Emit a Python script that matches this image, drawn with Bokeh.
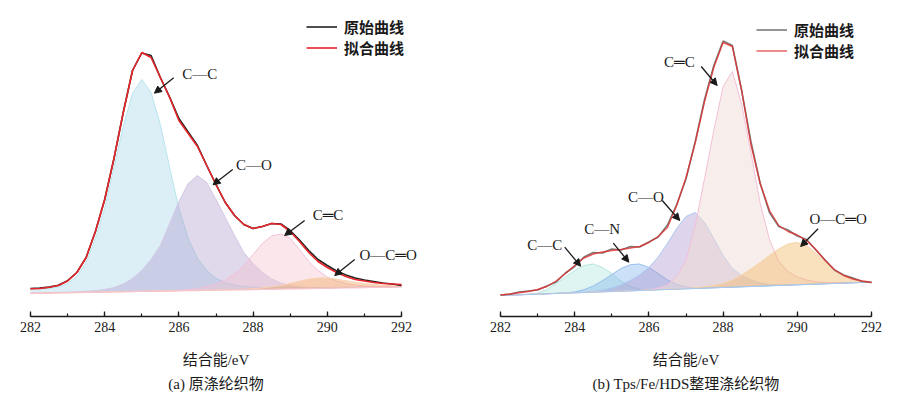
from bokeh.plotting import figure
from bokeh.layouts import row
from bokeh.models import (Range1d, SingleIntervalTicker, Title, Label, Arrow,
                          NormalHead, Legend, LegendItem)
from bokeh.embed import file_html
from bokeh.resources import INLINE

# ---------------- data (binding energy in eV, intensity in a.u.) ----------------
energy = [282.00, 282.25, 282.50, 282.75, 283.00, 283.25, 283.50, 283.75, 284.00, 284.25,
          284.50, 284.75, 285.00, 285.25, 285.50, 285.75, 286.00, 286.25, 286.50, 286.75,
          287.00, 287.25, 287.50, 287.75, 288.00, 288.25, 288.50, 288.75, 289.00, 289.25,
          289.50, 289.75, 290.00, 290.25, 290.50, 290.75, 291.00, 291.25, 291.50, 291.75,
          292.00]
x_axis_span = [282, 292]

# (a) untreated polyester fabric
a_raw = [12.0, 12.5, 13.4, 15.2, 19.8, 28.0, 43.0, 69.0, 101.0, 142.0,
         188.0, 230.0, 247.5, 245.0, 223.0, 203.5, 182.0, 168.5, 155.0, 135.0,
         116.0, 98.0, 85.0, 76.0, 72.0, 74.0, 77.0, 76.5, 70.0, 60.5,
         50.0, 41.0, 35.0, 29.5, 25.5, 22.5, 20.5, 19.0, 17.5, 16.5,
         15.0]
a_fit = [11.7, 12.0, 13.2, 15.0, 19.5, 28.0, 43.0, 69.0, 101.0, 142.0,
         188.0, 230.0, 248.0, 243.0, 223.0, 203.0, 180.0, 167.0, 154.0, 135.0,
         116.0, 98.0, 85.0, 76.0, 72.0, 74.0, 77.0, 76.0, 69.0, 59.0,
         48.0, 39.0, 33.0, 28.0, 24.0, 21.0, 19.5, 18.0, 17.0, 16.5,
         16.0]
a_base = [7.0, 7.2, 7.3, 7.5, 7.7, 7.8, 8.0, 8.1, 8.3, 8.5,
          8.6, 8.8, 9.0, 9.1, 9.3, 9.4, 9.6, 9.8, 9.9, 10.1,
          10.3, 10.4, 10.6, 10.7, 10.9, 11.1, 11.2, 11.4, 11.6, 11.7,
          11.9, 12.0, 12.2, 12.4, 12.5, 12.7, 12.9, 13.0, 13.2, 13.3,
          13.5]
a_cc = [11.0, 11.5, 12.0, 13.5, 17.0, 24.0, 38.0, 62.0, 92.0, 133.0,
        174.0, 207.0, 221.0, 208.0, 176.0, 133.0, 92.0, 62.0, 42.0, 30.0,
        22.0, 18.0, 15.5, 14.0, 13.3, 13.0, 12.8, 12.8, 12.8, 12.8,
        12.9, 13.0, 13.1, 13.2, 13.3, 13.4, 13.5, 13.6, 13.7, 13.8,
        13.9]
a_co = [7.5, 7.7, 7.9, 8.1, 8.4, 8.7, 9.2, 9.9, 11.0, 13.0,
        16.5, 22.0, 30.0, 41.0, 55.0, 77.0, 99.0, 117.0, 125.0, 118.0,
        101.0, 83.0, 65.0, 48.0, 37.0, 28.0, 21.5, 17.5, 15.0, 13.6,
        13.0, 12.8, 12.8, 12.9, 13.0, 13.1, 13.3, 13.4, 13.6, 13.7,
        13.9]
a_cdc = [7.3, 7.5, 7.6, 7.8, 8.0, 8.1, 8.3, 8.4, 8.6, 8.8,
         8.9, 9.1, 9.3, 9.4, 9.6, 9.7, 9.9, 10.8, 12.0, 14.0,
         16.5, 20.5, 26.5, 35.0, 46.0, 57.0, 64.5, 66.5, 62.0, 51.0,
         39.0, 30.0, 23.5, 19.5, 17.0, 15.5, 14.6, 14.1, 13.9, 13.8,
         13.9]
a_oco = [7.3, 7.5, 7.6, 7.8, 8.0, 8.1, 8.3, 8.4, 8.6, 8.8,
         8.9, 9.1, 9.3, 9.4, 9.6, 9.7, 9.9, 10.1, 10.2, 10.4,
         10.6, 10.7, 10.9, 11.2, 11.8, 12.6, 13.6, 15.0, 17.0, 19.3,
         21.3, 22.5, 22.5, 21.3, 19.8, 18.3, 17.0, 16.0, 15.2, 14.7,
         14.4]

# (b) Tps/Fe/HDS finished polyester fabric
b_raw = [5.5, 6.3, 8.5, 9.5, 10.5, 14.5, 18.5, 27.5, 34.0, 43.5,
         48.0, 47.5, 51.5, 50.5, 54.0, 53.5, 58.5, 63.5, 75.5, 96.0,
         121.5, 159.0, 201.0, 235.0, 259.5, 255.0, 210.0, 159.0, 117.0, 88.0,
         74.0, 70.5, 64.5, 61.0, 50.5, 40.5, 30.5, 25.5, 22.5, 19.0,
         18.0]
b_fit = [5.5, 6.5, 7.8, 9.0, 11.0, 14.0, 19.5, 27.0, 35.0, 42.5,
         46.5, 48.5, 50.0, 51.0, 52.5, 54.0, 58.0, 64.0, 73.0, 95.0,
         123.0, 158.0, 199.0, 233.0, 258.0, 254.0, 210.0, 156.0, 117.0, 90.0,
         75.0, 69.0, 65.5, 60.0, 51.0, 40.0, 31.0, 25.0, 21.5, 19.5,
         18.0]
b_base = [5.0, 5.3, 5.7, 6.0, 6.3, 6.7, 7.0, 7.3, 7.7, 8.0,
          8.3, 8.7, 9.0, 9.3, 9.7, 10.0, 10.3, 10.7, 11.0, 11.3,
          11.7, 12.0, 12.3, 12.7, 13.0, 13.3, 13.7, 14.0, 14.3, 14.7,
          15.0, 15.3, 15.7, 16.0, 16.3, 16.7, 17.0, 17.3, 17.7, 18.0,
          18.3]
b_cc = [5.1, 5.5, 5.9, 6.4, 7.3, 11.0, 17.0, 23.5, 30.0, 35.0,
        36.5, 33.0, 27.0, 19.5, 14.0, 11.3, 10.7, 10.9, 11.1, 11.4,
        11.8, 12.1, 12.4, 12.8, 13.1, 13.4, 13.8, 14.1, 14.4, 14.8,
        15.1, 15.4, 15.8, 16.1, 16.4, 16.8, 17.1, 17.4, 17.8, 18.1,
        18.4]
b_cn = [5.1, 5.4, 5.8, 6.1, 6.4, 6.8, 7.2, 7.7, 8.6, 10.8,
        14.5, 20.0, 26.0, 32.0, 35.8, 36.5, 33.0, 27.0, 20.5, 16.0,
        13.5, 12.6, 12.6, 12.9, 13.2, 13.5, 13.9, 14.2, 14.5, 14.9,
        15.2, 15.5, 15.9, 16.2, 16.5, 16.9, 17.2, 17.5, 17.9, 18.2,
        18.5]
b_co = [5.1, 5.4, 5.8, 6.1, 6.4, 6.8, 7.1, 7.5, 7.9, 8.3,
        9.0, 10.3, 12.5, 15.5, 20.0, 25.5, 33.0, 43.5, 57.0, 72.0,
        84.0, 88.0, 78.0, 62.0, 45.0, 32.0, 25.0, 20.5, 17.5, 16.0,
        15.6, 15.7, 16.0, 16.3, 16.6, 16.9, 17.2, 17.5, 17.9, 18.2,
        18.5]
b_cdc = [5.1, 5.4, 5.8, 6.1, 6.4, 6.8, 7.1, 7.4, 7.8, 8.1,
         8.4, 8.8, 9.1, 9.4, 9.8, 10.1, 11.0, 12.5, 15.5, 24.0,
         40.0, 75.0, 122.0, 170.0, 214.0, 229.0, 196.0, 148.0, 97.0, 61.0,
         39.0, 29.0, 23.5, 20.5, 18.8, 18.0, 17.7, 17.8, 18.0, 18.2,
         18.5]
b_oco = [5.1, 5.4, 5.8, 6.1, 6.4, 6.8, 7.1, 7.4, 7.8, 8.1,
         8.4, 8.8, 9.1, 9.4, 9.8, 10.1, 10.5, 10.9, 11.3, 11.7,
         12.1, 12.7, 13.6, 15.0, 17.0, 20.5, 25.5, 31.5, 38.0, 45.0,
         51.5, 56.5, 58.0, 55.0, 47.5, 38.0, 29.5, 24.0, 21.0, 19.6,
         18.9]

legend_labels = ["原始曲线", "拟合曲线"]
axis_title = "结合能/eV"
a_caption = "(a) 原涤纶织物"
b_caption = "(b) Tps/Fe/HDS整理涤纶织物"

# peak annotations: (text, label x, label y, arrow start x, y, arrow end x, y)
a_notes = [("C—C", 286.56, 227, 285.86, 222.7, 285.34, 207.3),
           ("C—O", 288.02, 136, 287.45, 131.0, 286.92, 115.7),
           ("C═C", 290.02, 86, 289.39, 80.0, 288.85, 65.0),
           ("O—C═O", 291.64, 46, 290.74, 41.0, 290.20, 25.0)]
b_notes = [("C═C", 286.82, 238.3, 287.41, 234.0, 287.84, 215.0),
           ("C—O", 285.92, 103.3, 286.36, 100.0, 286.83, 80.0),
           ("C—N", 284.74, 71.3, 285.04, 57.3, 285.46, 38.3),
           ("C—C", 283.19, 56.0, 283.73, 53.3, 284.16, 34.3),
           ("O—C═O", 291.10, 81.7, 290.56, 71.7, 290.09, 54.0)]

# ---------------- styling ----------------
SERIF = "'Liberation Serif', 'Noto Sans CJK SC'"
CJK = "'Noto Sans CJK SC'"
INK = "#1a1a1a"
# frame is 0.593 eV wider than the axis on each side so that labels are not clipped
X_START, X_END = 281.407, 292.593


def make_panel(left, right, base, comps, raw, fit, raw_color, fit_color, fit_width,
               fit_alpha, base_color, notes, caption, legend_loc):
    p = figure(width=450, height=396, x_range=Range1d(X_START, X_END),
               y_range=Range1d(-16, 296), output_backend="svg",
               toolbar_location=None, y_axis_location=None,
               min_border_left=left, min_border_right=right,
               min_border_top=4, min_border_bottom=80)
    p.grid.visible = False
    p.outline_line_color = None

    for vals, fill, alpha, line in comps:
        p.varea(x=energy, y1=base, y2=vals, fill_color=fill, fill_alpha=alpha)
        p.line(energy, vals, line_color=line, line_width=1.0)
    p.line(energy, base, line_color=base_color, line_width=1.2)

    r_raw = p.line(energy, raw, line_color=raw_color, line_width=1.6)
    r_fit = p.line(energy, fit, line_color=fit_color, line_width=fit_width,
                   line_alpha=fit_alpha)

    ax = p.xaxis[0]
    ax.bounds = tuple(x_axis_span)
    ax.ticker = SingleIntervalTicker(interval=2, num_minor_ticks=2)
    ax.axis_line_width = 1.5
    ax.axis_line_color = INK
    ax.major_tick_in = 5
    ax.major_tick_out = 0
    ax.minor_tick_in = 3
    ax.minor_tick_out = 0
    ax.major_tick_line_width = 1.3
    ax.minor_tick_line_width = 1.2
    ax.major_tick_line_color = INK
    ax.minor_tick_line_color = INK
    ax.major_label_standoff = 5
    ax.major_label_text_font = SERIF
    ax.major_label_text_font_size = "14px"
    ax.major_label_text_color = INK
    ax.axis_label = axis_title
    ax.axis_label_standoff = 17
    ax.axis_label_text_font = SERIF
    ax.axis_label_text_font_size = "15px"
    ax.axis_label_text_font_style = "normal"
    ax.axis_label_text_color = INK

    p.add_layout(Title(text=caption, align="center", text_font=SERIF,
                       text_font_size="15px", text_font_style="normal",
                       text_color=INK, standoff=6), "below")

    for text, lx, ly, x0, y0, x1, y1 in notes:
        p.add_layout(Arrow(end=NormalHead(size=7, fill_color=INK, line_color=INK),
                           x_start=x0, y_start=y0, x_end=x1, y_end=y1,
                           line_color=INK, line_width=1.3))
        p.add_layout(Label(x=lx, y=ly, text=text, text_align="center",
                           text_baseline="middle", text_font=SERIF,
                           text_font_size="15px", text_color=INK))

    legend = Legend(items=[LegendItem(label=legend_labels[0], renderers=[r_raw]),
                           LegendItem(label=legend_labels[1], renderers=[r_fit])],
                    location=legend_loc, glyph_width=31, glyph_height=17,
                    label_height=17, label_standoff=7, padding=0, spacing=0,
                    margin=0, border_line_color=None, background_fill_alpha=0,
                    label_text_font=CJK, label_text_font_size="15px",
                    label_text_font_style="bold", label_text_color=INK)
    p.add_layout(legend)
    return p


a_comps = [(a_cc, "#a8d8e8", 0.4, "#b8e4ee"),
           (a_co, "#a78ec5", 0.35, "#d4c8e6"),
           (a_cdc, "#f4c2cc", 0.4, "#f0c0dc"),
           (a_oco, "#f2a75c", 0.4, "#f6d0b0")]
b_comps = [(b_cc, "#ace6de", 0.4, "#b8e6e0"),
           (b_cn, "#7fb2ea", 0.4, "#98bfee"),
           (b_co, "#ac93cd", 0.4, "#a8c8f0"),
           (b_cdc, "#f0dcd5", 0.5, "#f2c0d8"),
           (b_oco, "#f2b45c", 0.4, "#f5d4a8")]

pa = make_panel(8, 27, a_base, a_comps, a_raw, a_fit, "#222222", "#e8252a", 1.6, 1.0,
                "#f6c4cc", a_notes, a_caption, (298, 258.5))
pb = make_panel(28, 7, b_base, b_comps, b_raw, b_fit, "#7a7a7a", "#e62e2e", 1.4, 0.8,
                "#a8c8f0", b_notes, b_caption, (278, 255))

layout = row(pa, pb)
open("out.html", "w").write(file_html(layout, INLINE))
